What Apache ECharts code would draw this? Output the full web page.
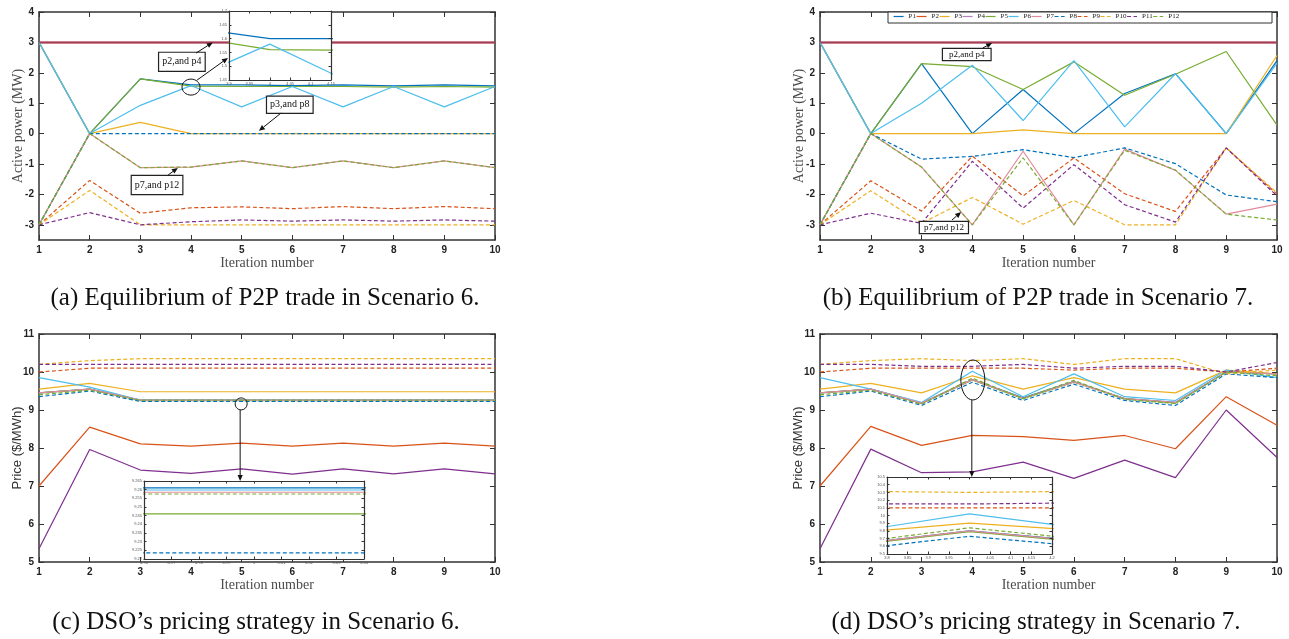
<!DOCTYPE html>
<html>
<head>
<meta charset="utf-8">
<script src="https://cdn.jsdelivr.net/npm/echarts@6/dist/echarts.min.js"></script>
<style>
  html, body { margin: 0; background: #fff; }
  #chart { width: 1289px; height: 639px; }
</style>
</head>
<body>
<div id="chart"></div>
<script>
const iterations = [1, 2, 3, 4, 5, 6, 7, 8, 9, 10];
const names = ['P1', 'P2', 'P3', 'P4', 'P5', 'P6', 'P7', 'P8', 'P9', 'P10', 'P11', 'P12'];
const colors = ['#0072BD', '#D95319', '#EDB120', '#7E2F8E', '#77AC30', '#4DBEEE', '#E38A9C',
                '#0072BD', '#D95319', '#EDB120', '#7E2F8E', '#77AC30'];
const powerTicks = [-3, -2, -1, 0, 1, 2, 3, 4];

// active power, scenario 6 (rows P1..P12)
const powerS6 = [
  [3, 0, 1.8, 1.6, 1.6, 1.58, 1.6, 1.57, 1.6, 1.57],
  [3, 3, 3, 3, 3, 3, 3, 3, 3, 3],
  [3, 0, 0.37, 0, 0, 0, 0, 0, 0, 0],
  [3, 3, 3, 3, 3, 3, 3, 3, 3, 3],
  [-3, 0, 1.8, 1.56, 1.55, 1.55, 1.55, 1.53, 1.55, 1.53],
  [3, 0, 0.93, 1.58, 0.88, 1.55, 0.88, 1.55, 0.88, 1.55],
  [-3, 0, -1.12, -1.1, -0.9, -1.12, -0.9, -1.12, -0.9, -1.12],
  [-3, 0, 0, 0, 0, 0, 0, 0, 0, 0],
  [-3, -1.54, -2.62, -2.44, -2.41, -2.47, -2.4, -2.47, -2.4, -2.47],
  [-3, -1.87, -3, -3, -3, -3, -3, -3, -3, -3],
  [-3, -2.6, -3, -2.9, -2.84, -2.88, -2.84, -2.88, -2.84, -2.88],
  [-3, 0, -1.12, -1.1, -0.9, -1.12, -0.9, -1.12, -0.9, -1.12]
];

// active power, scenario 7
const powerS7 = [
  [3, 0, 2.3, 0, 1.45, 0, 1.32, 1.97, 0, 2.4],
  [3, 3, 3, 3, 3, 3, 3, 3, 3, 3],
  [3, 0, 0, 0, 0.12, 0, 0, 0, 0, 2.57],
  [3, 3, 3, 3, 3, 3, 3, 3, 3, 3],
  [-3, 0, 2.3, 2.2, 1.45, 2.36, 1.26, 1.95, 2.7, 0.28],
  [3, 0, 1.0, 2.25, 0.43, 2.4, 0.22, 1.97, 0, 2.32],
  [-3, 0, -1.1, -3, -0.58, -3, -0.51, -1.21, -2.65, -2.32],
  [-3, 0, -0.84, -0.75, -0.53, -0.79, -0.47, -0.99, -2.02, -2.24],
  [-3, -1.55, -2.55, -0.74, -2.05, -0.8, -1.98, -2.56, -0.47, -1.99],
  [-3, -1.88, -2.95, -2.1, -2.98, -2.2, -3, -3, -0.47, -1.95],
  [-3, -2.62, -2.95, -0.91, -2.45, -1.02, -2.34, -2.91, -0.47, -2.05],
  [-3, 0, -1.1, -3, -0.8, -3, -0.55, -1.2, -2.65, -2.84]
];

// DSO price, scenario 6 ($/MWh)
const priceS6 = [
  [9.45, 9.55, 9.261, 9.261, 9.261, 9.261, 9.261, 9.261, 9.261, 9.261],
  [7.0, 8.55, 8.11, 8.05, 8.13, 8.05, 8.13, 8.05, 8.13, 8.05],
  [9.55, 9.7, 9.48, 9.48, 9.48, 9.48, 9.48, 9.48, 9.48, 9.48],
  [5.35, 7.96, 7.42, 7.33, 7.45, 7.31, 7.45, 7.32, 7.45, 7.32],
  [9.45, 9.55, 9.246, 9.246, 9.246, 9.246, 9.246, 9.246, 9.246, 9.246],
  [9.85, 9.6, 9.2598, 9.2598, 9.2598, 9.2598, 9.2598, 9.2598, 9.2598, 9.2598],
  [9.45, 9.55, 9.2585, 9.2585, 9.2585, 9.2585, 9.2585, 9.2585, 9.2585, 9.2585],
  [9.35, 9.5, 9.2235, 9.2235, 9.2235, 9.2235, 9.2235, 9.2235, 9.2235, 9.2235],
  [10.0, 10.1, 10.1, 10.1, 10.1, 10.1, 10.1, 10.1, 10.1, 10.1],
  [10.2, 10.3, 10.35, 10.35, 10.35, 10.35, 10.35, 10.35, 10.35, 10.35],
  [10.2, 10.2, 10.2, 10.2, 10.2, 10.2, 10.2, 10.2, 10.2, 10.2],
  [9.4, 9.52, 9.2575, 9.2575, 9.2575, 9.2575, 9.2575, 9.2575, 9.2575, 9.2575]
];

// DSO price, scenario 7
const priceS7 = [
  [9.45, 9.55, 9.18, 9.8, 9.32, 9.75, 9.3, 9.2, 10.0, 9.95],
  [7.0, 8.57, 8.07, 8.33, 8.3, 8.2, 8.33, 7.98, 9.35, 8.6],
  [9.55, 9.7, 9.45, 9.9, 9.55, 9.85, 9.55, 9.45, 10.05, 9.95],
  [5.35, 7.97, 7.35, 7.37, 7.63, 7.2, 7.68, 7.22, 9.0, 7.75],
  [9.45, 9.55, 9.17, 9.79, 9.3, 9.73, 9.3, 9.18, 10.0, 9.95],
  [9.85, 9.55, 9.2, 10.02, 9.35, 9.95, 9.35, 9.25, 10.05, 9.85],
  [9.45, 9.55, 9.18, 9.8, 9.31, 9.74, 9.3, 9.2, 10.0, 9.95],
  [9.35, 9.5, 9.12, 9.73, 9.25, 9.68, 9.25, 9.12, 9.95, 9.85],
  [10.0, 10.1, 10.1, 10.1, 10.1, 10.05, 10.1, 10.1, 10.0, 10.1],
  [10.2, 10.3, 10.35, 10.3, 10.35, 10.2, 10.35, 10.35, 9.95, 10.05],
  [10.2, 10.2, 10.15, 10.15, 10.2, 10.1, 10.15, 10.15, 10.0, 10.25],
  [9.4, 9.52, 9.15, 9.84, 9.3, 9.78, 9.28, 9.17, 10.0, 9.9]
];

const chart = echarts.init(document.getElementById('chart'), null, { renderer: 'canvas' });

const axisColor = '#333';
const serif = 'Liberation Serif';
const sans = 'Liberation Sans';

// 4 main panels + 3 insets
const grids = [
  { left: 39, top: 12, width: 456, height: 228 },
  { left: 820, top: 12, width: 457, height: 228 },
  { left: 39, top: 334, width: 456, height: 228 },
  { left: 820, top: 334, width: 457, height: 228 },
  { left: 229, top: 11, width: 102, height: 69, z: 5, show: true, backgroundColor: '#fff', borderWidth: 0 },
  { left: 144, top: 481, width: 220, height: 78, z: 5, show: true, backgroundColor: '#fff', borderWidth: 0 },
  { left: 887, top: 477, width: 165, height: 77, z: 5, show: true, backgroundColor: '#fff', borderWidth: 0 }
];

const xAxes = [];
const yAxes = [];

function addAxes(g, xr, yr, cfg) {
  const small = !!cfg.small;
  const lineStyle = { color: axisColor, width: small ? 1.2 : 1.5 };
  const tick = { show: true, inside: true, length: small ? 2.5 : 5, lineStyle: { color: axisColor, width: 1 } };
  const label = small
    ? { fontFamily: sans, fontSize: 4, color: '#555', margin: 2 }
    : { fontFamily: sans, fontWeight: 'bold', fontSize: 10, color: '#222', margin: 5 };
  const base = { type: 'value', gridIndex: g, splitLine: { show: false }, z: small ? 7 : 0,
                 axisLine: { show: true, onZero: false, lineStyle } };
  const xs = { min: xr[0], max: xr[1], interval: xr[2] };
  xAxes.push(Object.assign({}, base, xs, { position: 'bottom', axisTick: tick, axisLabel: label },
    cfg.xName ? { name: cfg.xName, nameLocation: 'middle', nameGap: 16,
      nameTextStyle: { fontFamily: serif, fontSize: 14, color: '#4a4a4a' } } : {}));
  xAxes.push(Object.assign({}, base, xs, { position: 'top', axisTick: tick, axisLabel: { show: false } }));
  let ys = { min: yr[0], max: yr[1] };
  let yTick = tick, yLabel = label;
  if (cfg.yTicks) {
    yTick = Object.assign({}, tick, { customValues: cfg.yTicks });
    yLabel = Object.assign({}, label, { customValues: cfg.yTicks });
  } else {
    ys.interval = yr[2];
  }
  yAxes.push(Object.assign({}, base, ys, { position: 'left', axisTick: yTick, axisLabel: yLabel }));
  yAxes.push(Object.assign({}, base, ys, { position: 'right', axisTick: yTick, axisLabel: { show: false } }));
}

addAxes(0, [1, 10, 1], [-3.5, 4], { yTicks: powerTicks, xName: 'Iteration number' });
addAxes(1, [1, 10, 1], [-3.5, 4], { yTicks: powerTicks, xName: 'Iteration number' });
addAxes(2, [1, 10, 1], [5, 11, 1], { xName: 'Iteration number' });
addAxes(3, [1, 10, 1], [5, 11, 1], { xName: 'Iteration number' });
addAxes(4, [3.9, 4.15, 0.05], [1.45, 1.7, 0.05], { small: true });
addAxes(5, [4.96, 5.04, 0.01], [9.22, 9.265, 0.005], { small: true });
addAxes(6, [3.8, 4.2, 0.05], [9.5, 10.5, 0.1], { small: true });

const series = [];
function addPanel(g, rows, isPower, inset) {
  rows.forEach((vals, i) => {
    series.push({
      name: names[i],
      type: 'line',
      xAxisIndex: 2 * g,
      yAxisIndex: 2 * g,
      data: iterations.map((x, k) => [x, vals[k]]),
      symbol: 'none',
      silent: true,
      z: inset ? 6 : 2 + (i === 3 ? 1 : 0),
      itemStyle: { color: colors[i] },
      lineStyle: {
        color: colors[i],
        width: isPower && (i === 1 || i === 3) ? 2 : 1.2,
        type: i >= 7 ? [4, 2.5] : 'solid',
        opacity: isPower && i === 3 ? 0.6 : 1
      }
    });
  });
}
addPanel(0, powerS6, true, false);
addPanel(1, powerS7, true, false);
addPanel(2, priceS6, false, false);
addPanel(3, priceS7, false, false);
addPanel(4, powerS6, true, true);
addPanel(5, priceS6, false, true);
addPanel(6, priceS7, false, true);

chart.setOption({
  animation: false,
  backgroundColor: '#fff',
  grid: grids,
  xAxis: xAxes,
  yAxis: yAxes,
  legend: {
    data: names,
    left: 893,
    top: 13,
    z: 4,
    padding: 0,
    itemWidth: 10,
    itemHeight: 8,
    itemGap: 0,
    selectedMode: false,
    itemStyle: { opacity: 0 },
    lineStyle: { width: 1.2 },
    textStyle: { fontFamily: serif, fontSize: 7, color: '#222' }
  },
  series: series
});

// annotations, anchored in data coordinates of each panel
const px = (g, p) => chart.convertToPixel({ xAxisIndex: 2 * g, yAxisIndex: 2 * g }, p);

const notes = [
  { g: 0, text: 'p2,and p4', at: [3.82, 2.36], size: 10, pad: [4, 3] },
  { g: 0, text: 'p3,and p8', at: [5.95, 0.95], size: 10, pad: [3, 3] },
  { g: 0, text: 'p7,and p12', at: [3.33, -1.69], size: 10, pad: [4, 3] },
  { g: 1, text: 'p2,and p4', at: [3.89, 2.6], size: 9, pad: [1, 6] },
  { g: 1, text: 'p7,and p12', at: [3.44, -3.09], size: 9, pad: [1, 4] }
];
const arrows = [
  { g: 0, from: [4.10, 2.65], to: [4.43, 3.0] },
  { g: 0, from: [4.12, 1.76], to: [4.73, 2.49] },
  { g: 0, from: [5.78, 0.68], to: [5.34, 0.09] },
  { g: 0, from: [3.55, -1.36], to: [3.74, -1.13] },
  { g: 1, from: [4.21, 2.82], to: [4.39, 2.98] },
  { g: 1, from: [3.6, -2.84], to: [3.78, -2.58] },
  { g: 2, from: [4.97, 9.0], to: [4.97, 7.13] },
  { g: 3, from: [3.99, 9.26], to: [3.99, 7.24] }
];
const rings = [
  { g: 0, at: [4.0, 1.53], rx: 9, ry: 8 },
  { g: 2, at: [4.99, 9.16], rx: 6, ry: 6 },
  { g: 3, at: [4.01, 9.79], rx: 12, ry: 20 }
];

const graphics = [];
notes.forEach(n => {
  const [x, y] = px(n.g, n.at);
  graphics.push({
    type: 'text', x, y, z: 20,
    style: {
      text: n.text, font: n.size + 'px "' + serif + '"', fill: '#111',
      align: 'center', verticalAlign: 'middle',
      backgroundColor: '#fff', borderColor: '#222', borderWidth: 1.2, padding: n.pad
    }
  });
});
arrows.forEach(a => {
  const [x1, y1] = px(a.g, a.from);
  const [x2, y2] = px(a.g, a.to);
  const ang = Math.atan2(y2 - y1, x2 - x1);
  const L = 6, W = 2.6;
  const bx = x2 - L * Math.cos(ang), by = y2 - L * Math.sin(ang);
  graphics.push({ type: 'line', z: 20, shape: { x1, y1, x2: bx, y2: by }, style: { stroke: '#111', lineWidth: 1 } });
  graphics.push({
    type: 'polygon', z: 20,
    shape: { points: [[x2, y2], [bx - W * Math.sin(ang), by + W * Math.cos(ang)], [bx + W * Math.sin(ang), by - W * Math.cos(ang)]] },
    style: { fill: '#111' }
  });
});
rings.forEach(r => {
  const [cx, cy] = px(r.g, r.at);
  graphics.push({ type: 'ellipse', z: 20, shape: { cx, cy, rx: r.rx, ry: r.ry }, style: { fill: null, stroke: '#111', lineWidth: 1 } });
});

// legend box of panel (b)
graphics.push({ type: 'rect', z: 3, shape: { x: 888, y: 12, width: 384, height: 11 }, style: { fill: '#fff', stroke: '#333', lineWidth: 1 } });

// rotated y-axis titles
const yTitles = [
  { text: 'Active power (MW)', x: 18, y: 126, font: '14px "' + serif + '"', fill: '#4a4a4a' },
  { text: 'Active power (MW)', x: 799, y: 126, font: '14px "' + serif + '"', fill: '#4a4a4a' },
  { text: 'Price ($/MWh)', x: 17, y: 448, font: '13px "' + sans + '"', fill: '#333' },
  { text: 'Price ($/MWh)', x: 798, y: 448, font: '13px "' + sans + '"', fill: '#333' }
];
yTitles.forEach(t => {
  graphics.push({
    type: 'text', x: t.x, y: t.y, rotation: Math.PI / 2, z: 20,
    style: { text: t.text, font: t.font, fill: t.fill, align: 'center', verticalAlign: 'middle' }
  });
});

const captions = [
  { text: '(a) Equilibrium of P2P trade in Scenario 6.', x: 265, y: 298 },
  { text: '(b) Equilibrium of P2P trade in Scenario 7.', x: 1038, y: 298 },
  { text: '(c) DSO\u2019s pricing strategy in Scenario 6.', x: 256, y: 622 },
  { text: '(d) DSO\u2019s pricing strategy in Scenario 7.', x: 1036, y: 622 }
];
captions.forEach(c => {
  graphics.push({
    type: 'text', x: c.x, y: c.y, z: 20,
    style: { text: c.text, font: '25px "' + serif + '"', fill: '#111', align: 'center', verticalAlign: 'middle' }
  });
});

chart.setOption({ graphic: { elements: graphics } });
</script>
</body>
</html>
